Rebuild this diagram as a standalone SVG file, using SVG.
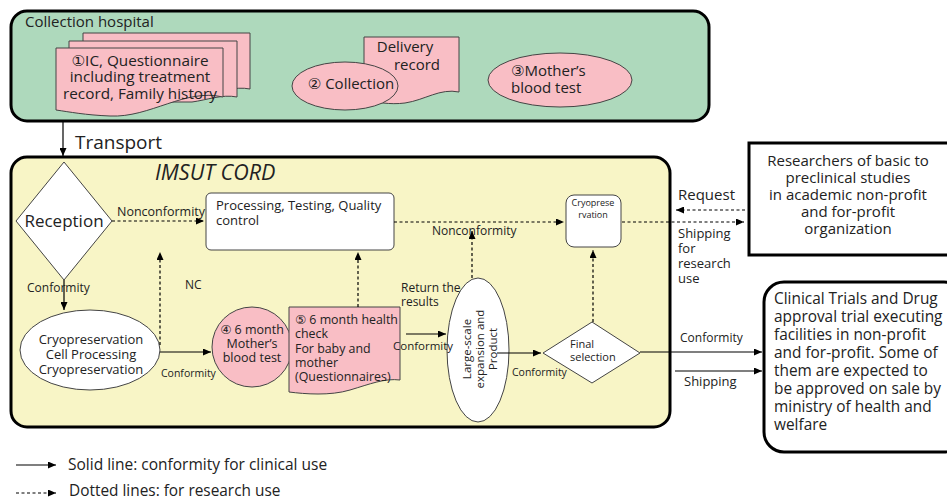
<svg xmlns="http://www.w3.org/2000/svg" width="947" height="501" viewBox="0 0 947 501">
<defs>
<marker id="ah" viewBox="0 0 8 7" refX="8" refY="3.5" markerWidth="8" markerHeight="7" markerUnits="userSpaceOnUse" orient="auto"><path d="M0,0 L8,3.5 L0,7 z" fill="#000"/></marker>
</defs>
<style>
text{font-family:"Open Sans","DejaVu Sans",sans-serif;fill:#222}
.big{stroke:#000;stroke-width:3}
.pink{fill:#f9bec5;stroke:#444;stroke-width:1}
.white{fill:#fff;stroke:#444;stroke-width:1}
.sol{fill:none;stroke:#000;stroke-width:1.2;marker-end:url(#ah)}
.dash{fill:none;stroke:#000;stroke-width:1.2;stroke-dasharray:3 2.5;marker-end:url(#ah)}
.s10{font-size:10.5px}.s11{font-size:11px}.s12{font-size:12px}.s13{font-size:13px}.s14{font-size:14px}.s15{font-size:15px}
.mid{text-anchor:middle}
</style>

<g id="hospital">
<rect x="11" y="11" width="698" height="110" rx="16" fill="#aed9bc" class="big"/>
<text x="25" y="27" style="font-size:15px">Collection hospital</text>
</g>
<g id="doc1">
<path class="pink" d="M83,33 H250 V89 C235,86 220,92 205,94 H83 Z"/>
<path class="pink" d="M69,41 H237 V97 C222,94 207,100 192,102 H69 Z"/>
<path class="pink" d="M56,48 H223 V97 C185,88 150,118 110,116 C85,115 70,112 56,110 Z"/>
<text x="140" y="66" class="mid" style="font-size:15.3px">①IC, Questionnaire</text>
<text x="140" y="82" class="mid" style="font-size:15.3px">including treatment</text>
<text x="140" y="99" class="mid" style="font-size:15.3px">record, Family history</text>
</g>
<g id="delivery">
<path class="pink" d="M364,37 H459 V92 C440,88 425,100 405,103 C390,105 375,102 364,100 Z"/>
<text x="405" y="52" class="s15 mid">Delivery</text>
<text x="417" y="70" class="s15 mid">record</text>
</g>
<g id="collection">
<ellipse cx="345" cy="86" rx="53" ry="24" class="pink"/>
<text x="351" y="89" class="s15 mid">② Collection</text>
</g>
<g id="mother1">
<ellipse cx="560" cy="80" rx="72" ry="27" class="pink"/>
<text x="511" y="76" class="s15">③Mother’s</text>
<text x="511" y="93" class="s15">blood test</text>
</g>

<text x="75" y="149" style="font-size:19px">Transport</text>

<g id="imsut">
<rect x="11" y="157" width="659" height="270" rx="16" fill="#f8f5c6" class="big"/>
<text x="155" y="180" style="font-size:21.5px;font-style:italic">IMSUT CORD</text>
</g>
<g id="reception">
<polygon points="64,162 112,221 64,280 16,221" class="white"/>
<text x="64" y="227" class="mid" style="font-size:17px">Reception</text>
</g>
<g id="processing">
<rect x="206" y="193" width="188" height="57" rx="5" class="white"/>
<text x="216" y="210" class="s13">Processing, Testing, Quality</text>
<text x="216" y="225" class="s13">control</text>
</g>
<g id="cryo">
<rect x="566" y="195" width="55" height="52" rx="8" class="white"/>
<text x="593" y="206" style="font-size:9px" class="mid">Cryoprese</text>
<text x="593" y="218" style="font-size:9px" class="mid">rvation</text>
</g>
<g id="cryoproc">
<ellipse cx="90" cy="350" rx="70" ry="40" class="white"/>
<text x="91" y="344" class="s13 mid">Cryopreservation</text>
<text x="91" y="359" class="s13 mid">Cell Processing</text>
<text x="91" y="374" class="s13 mid">Cryopreservation</text>
</g>
<g id="mother2">
<circle cx="252" cy="347" r="40" class="pink"/>
<text x="252" y="334" class="mid" style="font-size:12.5px">④ 6  month</text>
<text x="252" y="348" class="mid" style="font-size:12.5px">Mother’s</text>
<text x="252" y="362" class="mid" style="font-size:12.5px">blood test</text>
</g>
<g id="health">
<path class="pink" d="M289,307 H400 V380 C385,378 370,384 350,390 C330,396 305,394 289,392 Z"/>
<text x="295" y="324" style="font-size:12.4px">⑤ 6 month health</text>
<text x="295" y="338" style="font-size:12.4px">check</text>
<text x="295" y="353" style="font-size:12.4px">For baby and</text>
<text x="295" y="367" style="font-size:12.4px">mother</text>
<text x="295" y="381" style="font-size:12.4px">(Questionnaires)</text>
</g>
<g id="largescale">
<ellipse cx="478" cy="350" rx="31" ry="72" class="white"/>
<g transform="translate(478,349) rotate(-90)">
<text x="0" y="-7" class="mid" style="font-size:11.5px">Large-scale</text>
<text x="0" y="6" class="mid" style="font-size:11.5px">expansion and</text>
<text x="0" y="19" class="mid" style="font-size:11.5px">Product</text>
</g>
</g>
<g id="final">
<polygon points="592,322 640,353 592,383 543,353" class="white"/>
<text x="570" y="348" class="s11">Final</text>
<text x="570" y="361" class="s11">selection</text>
</g>
<g id="researchers">
<rect x="749" y="143" width="210" height="112" fill="#fff" class="big"/>
<text x="848" y="166" class="s15 mid">Researchers of basic to</text>
<text x="848" y="183" class="s15 mid">preclinical studies</text>
<text x="848" y="200" class="s15 mid">in academic non-profit</text>
<text x="848" y="217" class="s15 mid">and for-profit</text>
<text x="848" y="234" class="s15 mid">organization</text>
</g>
<g id="clinical">
<rect x="764" y="282" width="200" height="170" rx="20" fill="#fff" class="big"/>
<text x="774" y="304" style="font-size:15.4px">Clinical Trials and Drug</text>
<text x="774" y="322" style="font-size:15.4px">approval trial executing</text>
<text x="774" y="340" style="font-size:15.4px">facilities in non-profit</text>
<text x="774" y="358" style="font-size:15.4px">and for-profit. Some of</text>
<text x="774" y="376" style="font-size:15.4px">them are expected to</text>
<text x="774" y="394" style="font-size:15.4px">be approved on sale by</text>
<text x="774" y="412" style="font-size:15.4px">ministry of health and</text>
<text x="774" y="430" style="font-size:15.4px">welfare</text>
</g>

<g id="connectors">
<path class="sol" d="M63,121 V156"/>
<path class="dash" d="M112,221 H204"/>
<path class="sol" d="M64,280 V310"/>
<path class="sol" d="M160,352 H211"/>
<path class="dash" d="M160,345 V252"/>
<path class="dash" d="M358,307 V252"/>
<path class="sol" d="M406,334 H446"/>
<path class="dash" d="M472,278 V231"/>
<path class="dash" d="M394,222 H564"/>
<path class="sol" d="M497,353 H541"/>
<path class="dash" d="M593,322 V250"/>
<path class="dash" d="M622,222 H744"/>
<path class="dash" d="M745,210 H676"/>
<path class="sol" d="M640,352 H762"/>
<path class="sol" d="M675,371 H762"/>
<path class="sol" d="M16,465 H56"/>
<path class="dash" d="M16,493 H56"/>
</g>

<g id="labels">
<text x="117" y="216" style="font-size:12.5px">Nonconformity</text>
<text x="27" y="292" class="s12">Conformity</text>
<text x="185" y="289" class="s12">NC</text>
<text x="161" y="377" class="s10">Conformity</text>
<text x="401" y="292" class="s12">Return the</text>
<text x="401" y="306" class="s12">results</text>
<text x="393" y="350" style="font-size:11.5px">Conformity</text>
<text x="432" y="235" class="s12">Nonconformity</text>
<text x="512" y="376" class="s10">Conformity</text>
<text x="678" y="200" class="s15">Request</text>
<text x="678" y="238" class="s13">Shipping</text>
<text x="678" y="253" class="s13">for</text>
<text x="678" y="268" class="s13">research</text>
<text x="678" y="283" class="s13">use</text>
<text x="680" y="342" class="s12">Conformity</text>
<text x="684" y="386" class="s13">Shipping</text>
<text x="68" y="470" style="font-size:15.5px">Solid line: conformity for clinical use</text>
<text x="69" y="496" style="font-size:15.4px">Dotted lines: for research use</text>
</g>
</svg>
